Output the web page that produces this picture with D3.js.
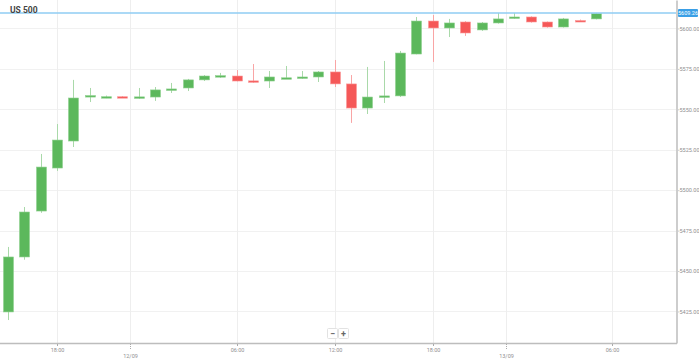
<!DOCTYPE html>
<html>
<head>
<meta charset="utf-8">
<script src="https://cdnjs.cloudflare.com/ajax/libs/d3/7.8.5/d3.min.js"></script>
<style>
  body { margin: 0; background: #fff; }
  svg { display: block; font-family: Roboto, "Open Sans", sans-serif; }
</style>
</head>
<body>
<svg width="699" height="362"></svg>
<script>
// hourly candles, US 500
const opens  = [5424.7, 5458.7, 5487.1, 5513.7, 5530.4, 5558.3, 5557.4, 5557.8, 5557.5, 5557.6,
                5562.0, 5563.2, 5568.2, 5570.6, 5570.6, 5567.6, 5567.5, 5569.3, 5569.8, 5570.0,
                5573.1, 5565.7, 5550.8, 5557.6, 5558.3, 5584.2, 5604.6, 5600.3, 5604.0, 5599.1,
                5603.4, 5606.9, 5607.1, 5604.0, 5600.9, 5604.9, 5605.9];
const highs  = [5464.9, 5489.6, 5522.4, 5540.9, 5568.2, 5563.2, 5558.5, 5558.2, 5563.2, 5563.8,
                5566.3, 5568.8, 5571.2, 5572.5, 5574.3, 5578.0, 5573.7, 5576.8, 5573.7, 5573.7,
                5580.5, 5571.2, 5576.2, 5579.9, 5586.1, 5607.1, 5608.3, 5605.9, 5604.5, 5604.0,
                5609.6, 5609.6, 5607.5, 5604.3, 5606.5, 5605.5, 5609.6];
const lows   = [5419.7, 5457.0, 5486.0, 5511.9, 5526.7, 5554.5, 5556.9, 5557.0, 5556.4, 5555.2,
                5560.1, 5561.3, 5567.5, 5569.4, 5567.3, 5566.3, 5563.2, 5568.8, 5568.8, 5566.9,
                5563.8, 5541.6, 5547.1, 5553.9, 5557.6, 5584.0, 5579.3, 5594.7, 5595.4, 5598.5,
                5603.0, 5605.9, 5603.6, 5600.5, 5600.6, 5604.0, 5605.6];
const closes = [5458.7, 5486.5, 5514.3, 5531.0, 5557.0, 5558.5, 5557.8, 5557.5, 5557.7, 5562.0,
                5562.6, 5568.2, 5570.6, 5570.8, 5567.5, 5567.4, 5570.0, 5569.5, 5570.0, 5573.1,
                5565.7, 5550.8, 5557.6, 5558.3, 5584.8, 5604.6, 5600.3, 5603.4, 5597.2, 5603.4,
                5605.9, 5607.1, 5604.0, 5600.9, 5605.9, 5604.6, 5609.26];

// x ticks in candle index units
const xTickPos    = [3, 7.5, 14, 20, 26, 30.5, 37];
const xTickLabels = ["18:00", "12/09", "06:00", "12:00", "18:00", "13/09", "06:00"];
const xTickIsDate = [false, true, false, false, false, true, false];

const yTicks = [5425, 5450, 5475, 5500, 5525, 5550, 5575, 5600];
const lastPrice = 5609.26;
const title = "US 500";

const attr_area = { width: 699, height: 362, plotRight: 676, plotBottom: 343 };
const green = "#5cb85c", red = "#f55858";

function drawChart() {
    let svg = d3.select("svg");
    let data = opens.map((o, i) => ({ i: i, o: o, h: highs[i], l: lows[i], c: closes[i] }));

    let scX = d3.scaleLinear().domain([-0.49, 40.9]).range([0, attr_area.plotRight]);
    let scY = d3.scaleLinear().domain([5405.5, 5617.6]).range([attr_area.plotBottom, 0]);

    // grid
    svg.append("g").selectAll("line").data(yTicks).enter().append("line")
        .attr("x1", 0).attr("x2", attr_area.plotRight)
        .attr("y1", d => Math.round(scY(d)) + 0.5).attr("y2", d => Math.round(scY(d)) + 0.5)
        .style("stroke", "#f1f1f1");
    svg.append("g").selectAll("line").data(xTickPos).enter().append("line")
        .attr("x1", d => Math.round(scX(d)) + 0.5).attr("x2", d => Math.round(scX(d)) + 0.5)
        .attr("y1", 0).attr("y2", attr_area.plotBottom)
        .style("stroke", "#eeeeee");

    // candles
    let cw = 10;
    let g = svg.append("g");
    g.selectAll(".wick").data(data).enter().append("line")
        .attr("x1", d => Math.round(scX(d.i)) + 0.5).attr("x2", d => Math.round(scX(d.i)) + 0.5)
        .attr("y1", d => scY(d.h)).attr("y2", d => scY(d.l))
        .style("stroke", d => d.c >= d.o ? "#a9d9a9" : "#f9a5a5");
    g.selectAll(".body").data(data).enter().append("rect")
        .attr("x", d => Math.round(scX(d.i)) - cw / 2 + 0.5)
        .attr("y", d => scY(Math.max(d.o, d.c)))
        .attr("width", cw)
        .attr("height", d => Math.max(1.5, Math.abs(scY(d.o) - scY(d.c))))
        .style("fill", d => d.c >= d.o ? green : red)
        .style("stroke", d => d.c >= d.o ? "#8fd08f" : "#fa9a9a")
        .style("stroke-width", 0.6);

    // axes
    let axisY = d3.axisRight(scY).tickValues(yTicks).tickSize(3).tickSizeOuter(0)
        .tickFormat(d3.format(".2f"));
    let gy = svg.append("g")
        .attr("transform", `translate(${attr_area.plotRight + 0.5}, 0)`)
        .call(axisY);
    gy.select(".domain").style("stroke", "#bdbdbd").style("stroke-width", 1.5);
    gy.selectAll(".tick line").style("stroke", "#ccc");
    gy.selectAll("text").attr("x", 3).style("font-size", "5.5px").style("fill", "#8f8f8f")
        .style("font-family", "Roboto, sans-serif");

    svg.append("line")
        .attr("x1", 0).attr("x2", attr_area.plotRight + 1)
        .attr("y1", attr_area.plotBottom + 0.5).attr("y2", attr_area.plotBottom + 0.5)
        .style("stroke", "#bdbdbd").style("stroke-width", 1.5);

    let gx = svg.append("g").selectAll("g").data(xTickPos).enter().append("g")
        .attr("transform", d => `translate(${Math.round(scX(d)) + 0.5}, ${attr_area.plotBottom})`);
    gx.append("line")
        .attr("y1", 1).attr("y2", (d, i) => xTickIsDate[i] ? 7 : 3)
        .style("stroke", "#aaa")
        .style("stroke-dasharray", (d, i) => xTickIsDate[i] ? "1,1" : null);
    gx.append("text")
        .attr("y", (d, i) => xTickIsDate[i] ? 15 : 8.5)
        .attr("text-anchor", "middle")
        .style("font-size", "5.5px").style("fill", "#8f8f8f")
        .text((d, i) => xTickLabels[i]);

    // last price line + badge
    let yLast = Math.round(scY(lastPrice));
    svg.append("line")
        .attr("x1", 0).attr("x2", attr_area.plotRight)
        .attr("y1", yLast).attr("y2", yLast)
        .attr("stroke", "#8fcdf3").attr("stroke-width", 1.3);
    let badge = svg.append("g").attr("transform", `translate(${attr_area.plotRight + 2}, ${yLast})`);
    badge.append("rect").attr("x", 0).attr("y", -4).attr("width", 20).attr("height", 8)
        .attr("rx", 1).style("fill", "#3a9fe6");
    badge.append("text").attr("x", 10).attr("y", 2).attr("text-anchor", "middle")
        .style("font-size", "5.5px").style("fill", "#fff").text(lastPrice.toFixed(2));

    // title
    svg.append("text").attr("x", 10).attr("y", 13)
        .style("font-size", "8.5px").style("font-weight", "bold").style("fill", "#444")
        .text(title);

    // zoom buttons
    let btns = svg.append("g").attr("transform", "translate(327, 328)");
    ["−", "+"].forEach((s, k) => {
        btns.append("rect").attr("x", k * 11 + 0.5).attr("y", 0.5).attr("width", 10).attr("height", 10)
            .attr("rx", 1).style("fill", "#fff").style("stroke", "#e2e2e2");
        btns.append("text").attr("x", k * 11 + 5.5).attr("y", 8.5).attr("text-anchor", "middle")
            .style("font-size", "9px").style("font-weight", "bold").style("fill", "#666").text(s);
    });
}

drawChart();
</script>
</body>
</html>
